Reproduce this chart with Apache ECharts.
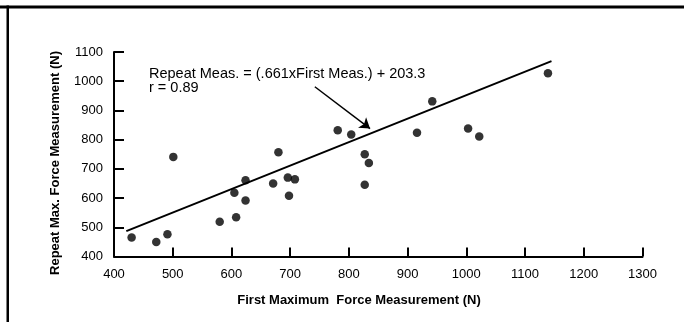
<!DOCTYPE html>
<html>
<head>
<meta charset="utf-8">
<script src="https://cdn.jsdelivr.net/npm/echarts@6/dist/echarts.min.js"></script>
<style>
html,body{margin:0;padding:0;background:#fff;}
#c{width:684px;height:322px;}
</style>
</head>
<body>
<div id="c"></div>
<script>
// Data
const firstForce = [430, 472, 491, 501, 580, 605, 608, 624, 624, 671, 680, 696, 698, 708, 781, 804, 827, 827, 834, 916, 942, 1003, 1022, 1139];
const repeatForce = [465, 450, 476, 741, 519, 618, 534, 661, 592, 650, 757, 670, 608, 664, 832, 818, 750, 646, 720, 824, 931, 838, 811, 1027];
const fitLineX = [421, 1145];
const fitLineY = [487, 1069];
const arrowFrom = [742, 981];
const arrowTo = [836, 838];
const xTicks = [400, 500, 600, 700, 800, 900, 1000, 1100, 1200, 1300];
const yTicks = [400, 500, 600, 700, 800, 900, 1000, 1100];
const annotationLines = ['Repeat Meas. = (.661xFirst Meas.) + 203.3', 'r = 0.89'];
const xName = 'First Maximum  Force Measurement (N)';
const yName = 'Repeat Max. Force Measurement (N)';

const points = firstForce.map((x, i) => [x, repeatForce[i]]);
const fitLine = fitLineX.map((x, i) => [x, fitLineY[i]]);

const font = '"Liberation Sans", Arial, Helvetica, sans-serif';
const chart = echarts.init(document.getElementById('c'), null, {renderer: 'canvas'});
chart.setOption({
  backgroundColor: '#fff',
  animation: false,
  grid: {left: 114, right: 41.5, top: 52, bottom: 65.5, containLabel: false},
  xAxis: {
    type: 'value', min: xTicks[0], max: xTicks[xTicks.length - 1], interval: 100,
    axisLine: {show: true, onZero: false, lineStyle: {color: '#000', width: 2}},
    axisTick: {show: true, inside: true, length: 9, lineStyle: {color: '#000', width: 2}},
    axisLabel: {color: '#000', fontSize: 13, fontFamily: font, margin: 11, formatter: v => String(v)},
    splitLine: {show: false}
  },
  yAxis: {
    type: 'value', min: yTicks[0], max: yTicks[yTicks.length - 1], interval: 100,
    axisLine: {show: true, onZero: false, lineStyle: {color: '#000', width: 2}},
    axisTick: {show: true, inside: true, length: 10, lineStyle: {color: '#000', width: 2}},
    axisLabel: {color: '#000', fontSize: 13, fontFamily: font, margin: 11, formatter: v => String(v)},
    splitLine: {show: false}
  },
  graphic: [
    {type: 'rect', shape: {x: 0, y: 5.5, width: 684, height: 3}, style: {fill: '#000'}},
    {type: 'rect', shape: {x: 6.5, y: 5.5, width: 2.5, height: 330}, style: {fill: '#000'}},
    {type: 'text', x: 149, y: 67, style: {text: annotationLines.join('\n'), font: '14.5px ' + font, fill: '#000', lineHeight: 14}},
    {type: 'text', x: 359, y: 300, style: {text: xName, font: 'bold 13px ' + font, fill: '#000', align: 'center', verticalAlign: 'middle'}},
    {type: 'text', x: 55, y: 163, rotation: Math.PI / 2, style: {text: yName, font: 'bold 13px ' + font, fill: '#000', align: 'center', verticalAlign: 'middle'}}
  ],
  series: [
    {
      type: 'line', data: fitLine, symbol: 'none', silent: true,
      lineStyle: {color: '#000', width: 2}
    },
    {
      type: 'scatter', data: points, symbol: 'circle', symbolSize: 8.5,
      itemStyle: {color: '#000'},
      markLine: {
        silent: true, symbol: ['none', 'arrow'], symbolSize: 10,
        lineStyle: {color: '#000', width: 1.5, type: 'solid'},
        label: {show: false},
        data: [[{coord: arrowFrom}, {coord: arrowTo}]]
      }
    }
  ]
});
</script>
</body>
</html>
